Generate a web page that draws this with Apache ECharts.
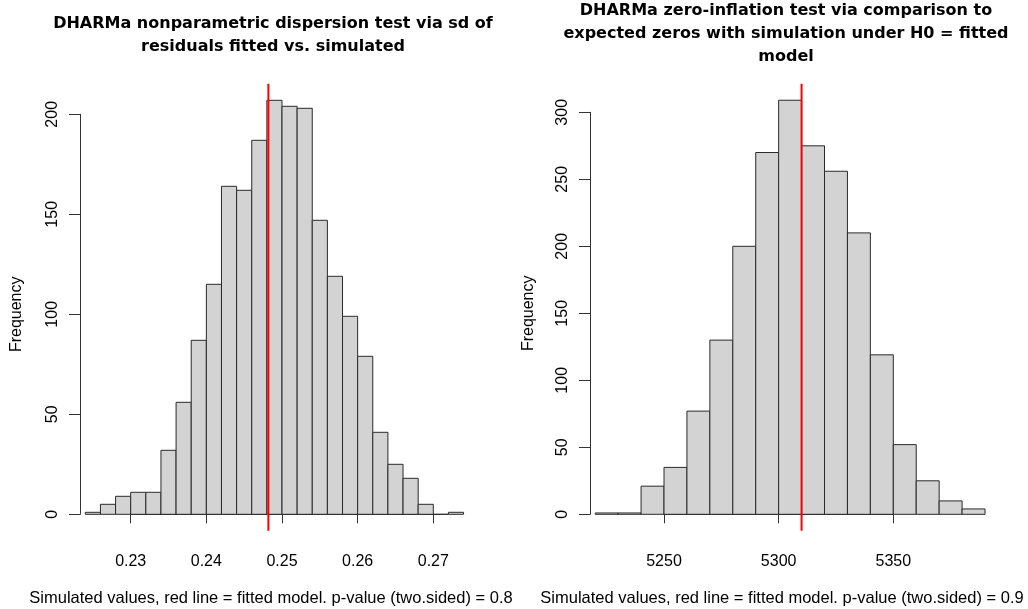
<!DOCTYPE html>
<html>
<head>
<meta charset="utf-8">
<title>DHARMa tests</title>
<script src="https://cdn.jsdelivr.net/npm/echarts@6/dist/echarts.min.js"></script>
<style>
  html, body { margin: 0; padding: 0; background: #fff; }
  #chart { width: 1028px; height: 609px; }
</style>
</head>
<body>
<div id="chart"></div>
<script>
// dispersion test: histogram of simulated sd of residuals
var dispBreaks = [0.224, 0.226, 0.228, 0.230, 0.232, 0.234, 0.236, 0.238, 0.240, 0.242, 0.244, 0.246, 0.248,
                  0.250, 0.252, 0.254, 0.256, 0.258, 0.260, 0.262, 0.264, 0.266, 0.268, 0.270, 0.272, 0.274];
var dispCounts = [1, 5, 9, 11, 11, 32, 56, 87, 115, 164, 162, 187, 207, 204, 203, 147, 119, 99, 79, 41, 25, 18, 5, 0, 1];
var dispObserved = 0.2482;
var dispTicks = [0.23, 0.24, 0.25, 0.26, 0.27];

// zero-inflation test: histogram of simulated number of zeros
var zeroBreaks = [5220, 5230, 5240, 5250, 5260, 5270, 5280, 5290, 5300, 5310, 5320, 5330, 5340, 5350, 5360, 5370, 5380, 5390];
var zeroCounts = [1, 1, 21, 35, 77, 130, 200, 270, 309, 275, 256, 210, 119, 52, 25, 10, 4];
var zeroObserved = 5310;
var zeroTicks = [5250, 5300, 5350];

var titles = [
  'DHARMa nonparametric dispersion test via sd of\nresiduals fitted vs. simulated',
  'DHARMa zero-inflation test via comparison to\nexpected zeros with simulation under H0 = fitted\nmodel'
];
var xlabs = [
  'Simulated values, red line = fitted model. p-value (two.sided) = 0.8',
  'Simulated values, red line = fitted model. p-value (two.sided) = 0.9'
];

var FONT = '"Liberation Sans", Arial, sans-serif';

function binsOf(breaks, counts) {
  var out = [];
  for (var i = 0; i < counts.length; i++) {
    out.push([breaks[i], breaks[i + 1], counts[i]]);
  }
  return out;
}

function renderBin(params, api) {
  var top = api.coord([api.value(0), api.value(2)]);
  var bot = api.coord([api.value(1), 0]);
  return {
    type: 'rect',
    shape: { x: top[0], y: top[1], width: bot[0] - top[0], height: bot[1] - top[1] },
    style: { fill: '#d3d3d3', stroke: '#2a2a2a', lineWidth: 1 }
  };
}

// R extends the plot region 4% beyond the data range; the abline spans it
function redLine(obs, counts) {
  var m = Math.max.apply(null, counts);
  return [[obs, -0.04 * m], [obs, 1.04 * m]];
}

function xAxisOf(idx, ticks, fmt) {
  return {
    gridIndex: idx, type: 'value',
    min: ticks[0], max: ticks[ticks.length - 1], interval: ticks[1] - ticks[0],
    offset: 17.5,
    axisLine: { show: true, lineStyle: { color: '#333', width: 1 } },
    axisTick: { show: true, length: 9, lineStyle: { color: '#333' } },
    axisLabel: { color: '#000', fontFamily: FONT, fontSize: 16, margin: 22, formatter: fmt },
    splitLine: { show: false }
  };
}

function yAxisOf(idx, max, offset, gap) {
  return {
    gridIndex: idx, type: 'value', min: 0, max: max, interval: 50,
    offset: offset,
    name: 'Frequency', nameLocation: 'middle', nameRotate: 90, nameGap: gap,
    nameTextStyle: { color: '#000', fontFamily: FONT, fontSize: 16 },
    axisLine: { show: true, lineStyle: { color: '#333', width: 1 } },
    axisTick: { show: true, length: 11, lineStyle: { color: '#333' } },
    axisLabel: { color: '#000', fontFamily: FONT, fontSize: 16, rotate: 90, margin: 19 },
    splitLine: { show: false }
  };
}

var chart = echarts.init(document.getElementById('chart'), null, { renderer: 'canvas' });

var option = {
  backgroundColor: '#fff',
  animation: false,
  grid: [
    { left: 130.7, top: 114.3, width: 302.6, height: 400 },
    { left: 664, top: 112.3, width: 229.3, height: 402 }
  ],
  xAxis: [
    xAxisOf(0, dispTicks, function (v) { return v.toFixed(2); }),
    xAxisOf(1, zeroTicks, function (v) { return String(Math.round(v)); })
  ],
  yAxis: [
    yAxisOf(0, 200, 50.7, 55),
    yAxisOf(1, 300, 74, 53)
  ],
  series: [
    {
      type: 'custom', xAxisIndex: 0, yAxisIndex: 0, clip: false, silent: true,
      renderItem: renderBin, encode: { x: [0, 1], y: 2 },
      data: binsOf(dispBreaks, dispCounts)
    },
    {
      type: 'line', xAxisIndex: 0, yAxisIndex: 0, clip: false, silent: true, z: 5,
      symbol: 'none', lineStyle: { color: '#ff0000', width: 2 },
      data: redLine(dispObserved, dispCounts)
    },
    {
      type: 'custom', xAxisIndex: 1, yAxisIndex: 1, clip: false, silent: true,
      renderItem: renderBin, encode: { x: [0, 1], y: 2 },
      data: binsOf(zeroBreaks, zeroCounts)
    },
    {
      type: 'line', xAxisIndex: 1, yAxisIndex: 1, clip: false, silent: true, z: 5,
      symbol: 'none', lineStyle: { color: '#ff0000', width: 2 },
      data: redLine(zeroObserved, zeroCounts)
    }
  ],
  graphic: [
    { type: 'text', x: 273, y: 35, silent: true,
      style: { text: titles[0], fill: '#000', fontFamily: '"DejaVu Sans", sans-serif', fontWeight: 'bold',
               fontSize: 16, lineHeight: 23, align: 'center', verticalAlign: 'middle' } },
    { type: 'text', x: 786, y: 34, silent: true,
      style: { text: titles[1], fill: '#000', fontFamily: '"DejaVu Sans", sans-serif', fontWeight: 'bold',
               fontSize: 16, lineHeight: 23, align: 'center', verticalAlign: 'middle' } },
    { type: 'text', x: 271, y: 598, silent: true,
      style: { text: xlabs[0], fill: '#000', fontFamily: FONT, fontSize: 16.5, align: 'center', verticalAlign: 'middle' } },
    { type: 'text', x: 782, y: 598, silent: true,
      style: { text: xlabs[1], fill: '#000', fontFamily: FONT, fontSize: 16.5, align: 'center', verticalAlign: 'middle' } }
  ]
};

chart.setOption(option);
</script>
</body>
</html>
